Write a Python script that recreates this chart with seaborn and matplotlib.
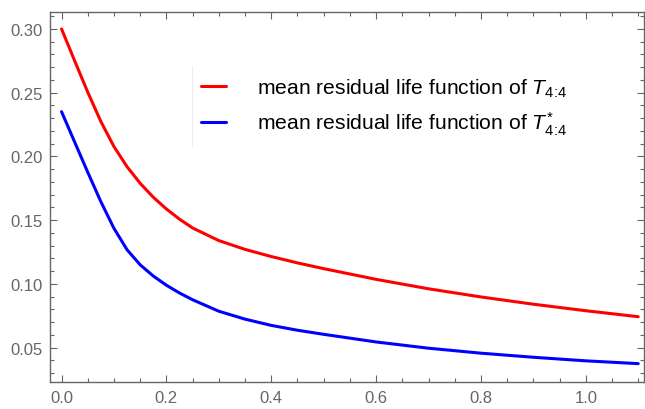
import numpy as np
import pandas as pd
import matplotlib
matplotlib.use("Agg")
import matplotlib.pyplot as plt
from matplotlib.ticker import MultipleLocator, FormatStrFormatter
from matplotlib.lines import Line2D
import seaborn as sns

# valeurs
t_vals = [0.0, 0.025, 0.05, 0.075, 0.1, 0.125, 0.15, 0.175, 0.2, 0.225, 0.25,
          0.3, 0.35, 0.4, 0.45, 0.5, 0.6, 0.7, 0.8, 0.9, 1.0, 1.1]
mrl_T = [0.3000, 0.2750, 0.2504, 0.2274, 0.2077, 0.1919, 0.1789, 0.1680,
         0.1588, 0.1508, 0.1439, 0.1340, 0.1271, 0.1215, 0.1165, 0.1120,
         0.1036, 0.0962, 0.0898, 0.0841, 0.0790, 0.0743]
mrl_Tstar = [0.2351, 0.2113, 0.1876, 0.1645, 0.1436, 0.1268, 0.1150, 0.1062,
             0.0990, 0.0929, 0.0876, 0.0786, 0.0724, 0.0675, 0.0637, 0.0605,
             0.0545, 0.0496, 0.0457, 0.0425, 0.0397, 0.0375]
labels = [r"mean residual life function of $T_{4\!:\!4}$",
          r"mean residual life function of $T^{*}_{4\!:\!4}$"]

df = pd.DataFrame({
    "t": t_vals * 2,
    "mrl": mrl_T + mrl_Tstar,
    "serie": [labels[0]] * len(t_vals) + [labels[1]] * len(t_vals),
})

sns.set_style("ticks")
plt.rcParams["font.family"] = ["Liberation Sans", "DejaVu Sans"]
plt.rcParams["mathtext.fontset"] = "custom"
plt.rcParams["mathtext.rm"] = "Liberation Sans"
plt.rcParams["mathtext.it"] = "Liberation Sans:italic"

fig = plt.figure(figsize=(6.45, 4.1), dpi=100)
ax = fig.add_axes([50 / 645, 27 / 410, 594 / 645, 370.3 / 410])

sns.lineplot(data=df, x="t", y="mrl", hue="serie",
             palette={labels[0]: "#ff0000", labels[1]: "#0000ff"},
             linewidth=2.2, ax=ax, legend=False, sort=False)

ax.set_xlim(-0.022, 1.111)
ax.set_ylim(0.0231, 0.3135)
ax.xaxis.set_major_locator(MultipleLocator(0.2))
ax.xaxis.set_minor_locator(MultipleLocator(0.05))
ax.yaxis.set_major_locator(MultipleLocator(0.05))
ax.yaxis.set_minor_locator(MultipleLocator(0.01))
ax.xaxis.set_major_formatter(FormatStrFormatter("%.1f"))
ax.yaxis.set_major_formatter(FormatStrFormatter("%.2f"))
ax.set_xlabel("")
ax.set_ylabel("")

gris = "#666666"
for s in ax.spines.values():
    s.set_visible(True)
    s.set_color(gris)
    s.set_linewidth(1.0)
ax.tick_params(which="both", direction="in", top=True, right=True,
               color=gris, labelcolor=gris, labelsize=12, width=0.8)
ax.tick_params(which="major", length=5)
ax.tick_params(which="minor", length=3)
ax.tick_params(axis="y", pad=5)
ax.tick_params(axis="x", pad=6)

# légende
handles = [Line2D([], [], color="#ff0000", lw=2.2),
           Line2D([], [], color="#0000ff", lw=2.2)]
leg = ax.legend(handles, labels, loc="center left",
                bbox_to_anchor=(0.2537, 0.744), frameon=False,
                fontsize=15.2, handlelength=1.18, handletextpad=1.5,
                labelspacing=0.5, borderpad=0, borderaxespad=0)
for txt in leg.get_texts():
    txt.set_color("black")
fig.add_artist(Line2D([192 / 645, 192 / 645], [1 - 67 / 410, 1 - 147 / 410],
                      color="#eeeeee", lw=0.8))

fig.savefig("out.png", dpi=100)
